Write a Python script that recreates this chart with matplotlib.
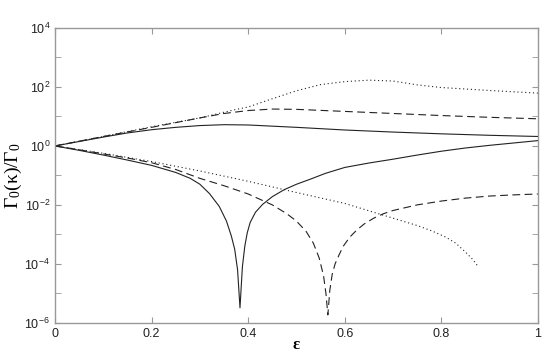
import matplotlib
matplotlib.use('Agg')
import numpy as np
import matplotlib.pyplot as plt
from matplotlib.ticker import FixedLocator, NullFormatter, LogFormatterSciNotation

plt.rcParams['font.family'] = ['Liberation Sans', 'DejaVu Sans']
plt.rcParams['mathtext.default'] = 'regular'

# values, stored as log10(Gamma0(kappa)/Gamma0)
eps_up_solid = [0, 0.05, 0.1, 0.15, 0.2, 0.25, 0.3, 0.35, 0.4, 0.5, 0.6, 0.7, 0.8, 0.9, 1.0]
log_up_solid = [0, 0.15, 0.3, 0.44, 0.55, 0.63, 0.69, 0.72, 0.71, 0.63, 0.54, 0.47, 0.41, 0.36, 0.32]

eps_up_dash = [0, 0.1, 0.2, 0.3, 0.35, 0.4, 0.45, 0.5, 0.6, 0.7, 0.8, 0.9, 1.0]
log_up_dash = [0, 0.32, 0.63, 0.95, 1.1, 1.2, 1.25, 1.24, 1.17, 1.1, 1.03, 0.97, 0.92]

eps_up_dot = [0, 0.1, 0.2, 0.3, 0.37, 0.4, 0.45, 0.5, 0.55, 0.6, 0.65, 0.7, 0.75, 0.8, 0.9, 1.0]
log_up_dot = [0, 0.32, 0.65, 0.95, 1.22, 1.32, 1.6, 1.87, 2.08, 2.18, 2.23, 2.2, 2.07, 1.98, 1.88, 1.79]

eps_lo_solid = [0, 0.05, 0.1, 0.15, 0.2, 0.25, 0.28, 0.3, 0.32, 0.34, 0.355, 0.365, 0.372, 0.378,
                0.383, 0.388, 0.393, 0.398, 0.404, 0.415, 0.43, 0.45, 0.475, 0.5, 0.53, 0.56,
                0.6, 0.65, 0.7, 0.75, 0.8, 0.85, 0.9, 0.95, 1.0]
log_lo_solid = [0, -0.15, -0.31, -0.48, -0.66, -0.9, -1.1, -1.3, -1.62, -2.05, -2.55, -3.05, -3.5, -4.2,
                -5.49, -4.1, -3.4, -2.95, -2.6, -2.25, -1.98, -1.72, -1.48, -1.3, -1.12, -0.93,
                -0.73, -0.58, -0.45, -0.31, -0.18, -0.07, 0.02, 0.1, 0.18]

eps_lo_dash = [0, 0.05, 0.1, 0.15, 0.2, 0.25, 0.3, 0.35, 0.4, 0.45, 0.48, 0.5, 0.52, 0.535, 0.547,
               0.556, 0.561, 0.565, 0.569, 0.574, 0.58, 0.588, 0.597, 0.61, 0.625, 0.64, 0.66,
               0.68, 0.7, 0.75, 0.8, 0.85, 0.9, 0.95, 1.0]
log_lo_dash = [0, -0.13, -0.27, -0.41, -0.57, -0.8, -1.1, -1.35, -1.63, -2.0, -2.3, -2.55, -2.9, -3.3, -3.8,
               -4.4, -5.0, -5.73, -4.9, -4.35, -4.0, -3.7, -3.4, -3.1, -2.85, -2.65, -2.45,
               -2.3, -2.19, -2.0, -1.87, -1.77, -1.7, -1.66, -1.63]

eps_lo_dot = [0, 0.1, 0.2, 0.3, 0.4, 0.5, 0.6, 0.65, 0.7, 0.75, 0.78, 0.81, 0.83, 0.85, 0.865, 0.876]
log_lo_dot = [0, -0.25, -0.53, -0.85, -1.2, -1.58, -1.95, -2.2, -2.45, -2.7, -2.88, -3.1, -3.3, -3.6, -3.85, -4.09]

fig = plt.figure(figsize=(5.45, 3.54), dpi=100)
ax = fig.add_axes([0.101, 0.088, 0.886, 0.833])

lc = '#222222'
ax.semilogy(eps_up_solid, 10 ** np.array(log_up_solid), '-', color=lc, lw=0.8)
ax.semilogy(eps_lo_solid, 10 ** np.array(log_lo_solid), '-', color=lc, lw=0.8)
ax.semilogy(eps_up_dash, 10 ** np.array(log_up_dash), color=lc, lw=0.8, dashes=(7, 4))
ax.semilogy(eps_lo_dash, 10 ** np.array(log_lo_dash), color=lc, lw=0.8, dashes=(7, 4))
ax.semilogy(eps_up_dot, 10 ** np.array(log_up_dot), color=lc, lw=0.8, dashes=(1, 2.5))
ax.semilogy(eps_lo_dot, 10 ** np.array(log_lo_dot), color=lc, lw=0.8, dashes=(1, 2.5))

ax.set_xlim(0, 1)
ax.set_ylim(1e-6, 1e4)
ax.set_xticks([0, 0.2, 0.4, 0.6, 0.8, 1.0])
ax.set_xticklabels(['0', '0.2', '0.4', '0.6', '0.8', '1'])
ax.yaxis.set_major_locator(FixedLocator([1e-6, 1e-4, 1e-2, 1e0, 1e2, 1e4]))
ax.yaxis.set_major_formatter(LogFormatterSciNotation())
ax.yaxis.set_minor_locator(FixedLocator([1e-5, 1e-3, 1e-1, 1e1, 1e3]))
ax.yaxis.set_minor_formatter(NullFormatter())

for s in ax.spines.values():
    s.set_color('#999999')
    s.set_linewidth(1.0)
ax.tick_params(which='both', direction='in', top=True, right=True, color='#999999',
               labelsize=9, labelcolor='#222222', length=4)

ax.set_ylabel(r'$\Gamma_0(\kappa)/\Gamma_0$', family=['Liberation Serif', 'DejaVu Serif'],
              fontsize=14, labelpad=0)
ax.set_xlabel('ε', family=['Liberation Serif', 'DejaVu Serif'], fontweight='bold',
              fontsize=12, labelpad=-2)

fig.savefig('out.png', dpi=100)
